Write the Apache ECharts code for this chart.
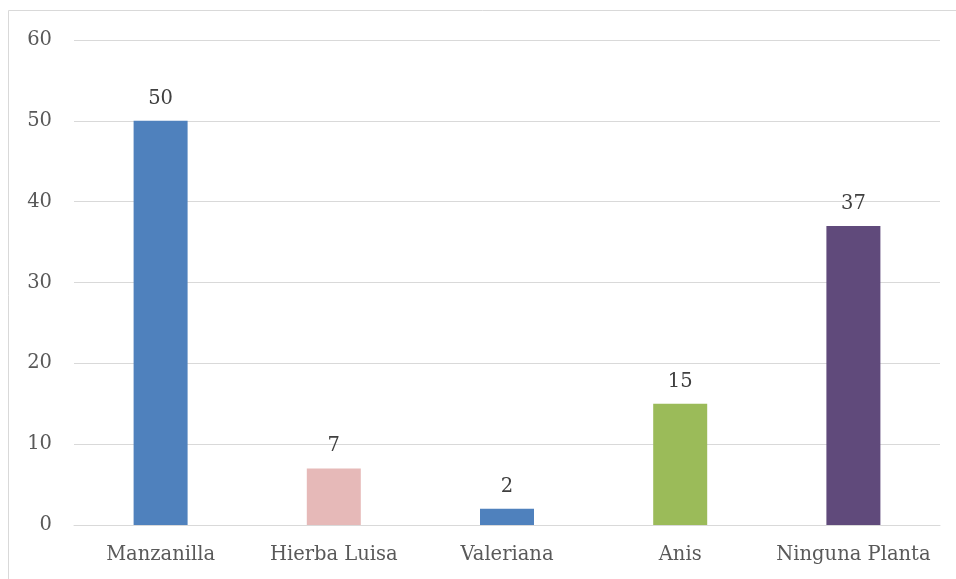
<!DOCTYPE html>
<html>
<head>
<meta charset="UTF-8">
<title>Plantas</title>
<script src="https://cdn.jsdelivr.net/npm/echarts@6/dist/echarts.min.js"></script>
<style>
  body { margin: 0; background: #fff; }
  #chart { width: 956px; height: 579px; }
</style>
</head>
<body>
<div id="chart"></div>
<script>
// datos
var categorias = ['Manzanilla', 'Hierba Luisa', 'Valeriana', 'Anis', 'Ninguna Planta'];
var valores = [50, 7, 2, 15, 37];
var colores = ['#4F81BD', '#E6B9B8', '#4F81BD', '#9BBB59', '#604A7B'];

var fuente = 'DejaVu Serif';

var myChart = echarts.init(document.getElementById('chart'));
var option = {
  animation: false,
  // borde del área del gráfico (solo arriba e izquierda visibles)
  graphic: [{
    type: 'polyline',
    shape: { points: [[8.5, 700], [8.5, 10.5], [1200, 10.5]] },
    style: { fill: null, stroke: '#d9d9d9', lineWidth: 1 }
  }],
  grid: { left: 74, right: 16, top: 40, bottom: 54 },
  xAxis: {
    type: 'category',
    data: categorias,
    axisTick: { show: false },
    axisLine: { lineStyle: { color: '#d9d9d9', width: 1 } },
    axisLabel: { color: '#595959', fontFamily: fuente, fontSize: 19.5, margin: 20, interval: 0 }
  },
  yAxis: {
    type: 'value',
    min: 0, max: 60, interval: 10,
    axisLine: { show: false },
    axisTick: { show: false },
    splitLine: { lineStyle: { color: '#d9d9d9', width: 1 } },
    axisLabel: { color: '#595959', fontFamily: fuente, fontSize: 19.5, margin: 22 }
  },
  series: [{
    type: 'bar',
    barWidth: 54,
    data: valores.map(function (v, i) {
      return { value: v, itemStyle: { color: colores[i] } };
    }),
    label: {
      show: true,
      position: 'top',
      distance: 12,
      color: '#404040',
      fontFamily: fuente,
      fontSize: 19.5
    }
  }]
};
myChart.setOption(option);
</script>
</body>
</html>
